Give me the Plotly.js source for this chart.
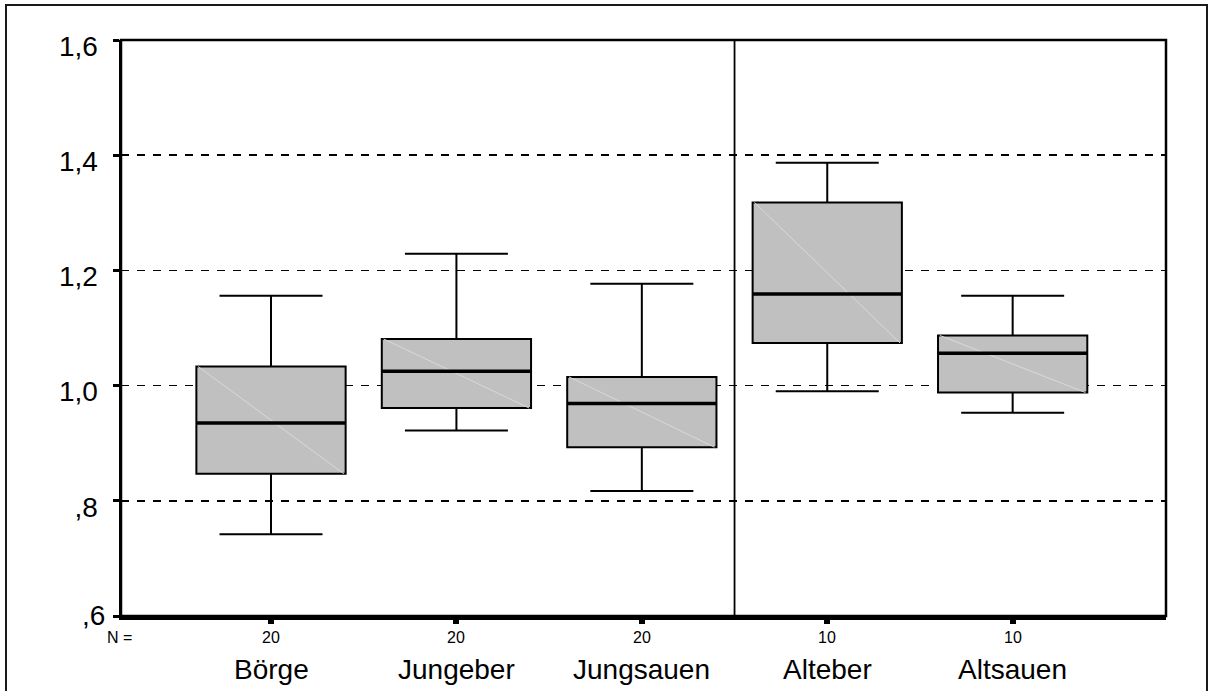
<!DOCTYPE html>
<html>
<head>
<meta charset="utf-8">
<script src="https://cdn.plot.ly/plotly-3.0.1.min.js"></script>
<style>
  html, body { margin: 0; padding: 0; background: #fff; overflow: hidden; }
  #frame { position: absolute; left: 5px; top: 4px; width: 1203px; height: 720px; border: 2px solid #1a1a1a; box-sizing: border-box; }
  #chart { position: absolute; left: 0; top: 0; width: 1213px; height: 691px; }
</style>
</head>
<body>
<div id="frame"></div>
<div id="chart"></div>
<script>
// Groups and their sample sizes
const categories = ['Börge', 'Jungeber', 'Jungsauen', 'Alteber', 'Altsauen'];
const counts = [20, 20, 20, 10, 10];

// Five-number summaries per group
const lowerWhisker = [0.742, 0.922, 0.817, 0.990, 0.953];
const q1           = [0.847, 0.961, 0.893, 1.074, 0.988];
const median       = [0.935, 1.025, 0.969, 1.159, 1.056];
const q3           = [1.033, 1.081, 1.015, 1.318, 1.087];
const upperWhisker = [1.156, 1.229, 1.177, 1.387, 1.156];

// Value axis ticks (German decimal comma, no leading zero)
const yTickVals = [0.6, 0.8, 1.0, 1.2, 1.4, 1.6];
const yTickText = [',6', ',8', '1,0', '1,2', '1,4', '1,6'];

const FONT = 'Arial, "Liberation Sans", sans-serif';
const BOX_W = 0.805;
const pos = categories.map((_, i) => i);

const boxTrace = {
  type: 'box',
  x: pos,
  q1: q1,
  median: median,
  q3: q3,
  lowerfence: lowerWhisker,
  upperfence: upperWhisker,
  width: BOX_W,
  whiskerwidth: 0.69,
  boxpoints: false,
  fillcolor: '#c0c0c0',
  line: { color: '#000', width: 2 },
  hoverinfo: 'skip',
  showlegend: false
};

// Faint diagonal inside each box and the heavier median bar
const diagX = [], diagY = [], medX = [], medY = [];
pos.forEach((p, i) => {
  diagX.push(p - BOX_W / 2 + 0.01, p + BOX_W / 2 - 0.01, null);
  diagY.push(q3[i], q1[i], null);
  medX.push(p - BOX_W / 2, p + BOX_W / 2, null);
  medY.push(median[i], median[i], null);
});

const diagTrace = {
  type: 'scatter', mode: 'lines', x: diagX, y: diagY,
  line: { color: '#d9d9d9', width: 1 }, hoverinfo: 'skip', showlegend: false
};
const medianTrace = {
  type: 'scatter', mode: 'lines', x: medX, y: medY,
  line: { color: '#000', width: 3.5 }, hoverinfo: 'skip', showlegend: false
};

const annotations = [];
// lowest value label sits level with its tick, the others a little below
annotations.push({
  text: yTickText[0], xref: 'paper', yref: 'y', x: 0, y: yTickVals[0],
  xanchor: 'right', yanchor: 'middle', xshift: -14, yshift: 1,
  showarrow: false, font: { family: FONT, size: 28, color: '#000' }
});
annotations.push({
  text: 'N =', xref: 'paper', yref: 'paper', x: 0, y: 0,
  xanchor: 'center', yanchor: 'middle', xshift: -2, yshift: -21,
  showarrow: false, font: { family: FONT, size: 16, color: '#000' }
});
pos.forEach((p, i) => {
  annotations.push({
    text: String(counts[i]), xref: 'x', yref: 'paper', x: p, y: 0,
    xanchor: 'center', yanchor: 'middle', yshift: -21,
    showarrow: false, font: { family: FONT, size: 16, color: '#000' }
  });
  annotations.push({
    text: categories[i], xref: 'x', yref: 'paper', x: p, y: 0,
    xanchor: 'center', yanchor: 'middle', yshift: -53,
    showarrow: false, font: { family: FONT, size: 28, color: '#000' }
  });
});

const layout = {
  width: 1213, height: 691,
  margin: { l: 121, r: 47, t: 40, b: 75, pad: 0 },
  paper_bgcolor: 'rgba(0,0,0,0)',
  plot_bgcolor: '#fff',
  font: { family: FONT, color: '#000' },
  showlegend: false,
  xaxis: {
    range: [-0.809, 4.827],
    tickvals: pos,
    showticklabels: false,
    ticks: 'outside', ticklen: 4, tickwidth: 6, tickcolor: '#000',
    showgrid: false, zeroline: false,
    showline: true, linecolor: '#000', linewidth: 4
  },
  yaxis: {
    range: [0.6, 1.6],
    tickvals: yTickVals,
    ticktext: [''].concat(yTickText.slice(1)),
    tickfont: { family: FONT, size: 28, color: '#000' },
    ticks: 'outside', ticklen: 6, tickwidth: 3, tickcolor: '#000',
    ticklabelstandoff: 9,
    ticklabelshift: 6,
    showgrid: true, gridcolor: '#000', gridwidth: 1.6, griddash: '8px,8px',
    zeroline: false,
    showline: true, linecolor: '#000', linewidth: 2.5
  },
  shapes: [
    // frame around the plotting area
    { type: 'rect', xref: 'paper', yref: 'paper', x0: 0, x1: 1, y0: 0, y1: 1,
      line: { color: '#000', width: 2.5 }, layer: 'above' },
    // divider between young and adult groups
    { type: 'line', xref: 'x', yref: 'paper', x0: 2.5, x1: 2.5, y0: 0, y1: 1,
      line: { color: '#000', width: 1.8 }, layer: 'above' }
  ],
  annotations: annotations
};

Plotly.newPlot('chart', [boxTrace, diagTrace, medianTrace], layout, { displayModeBar: false, staticPlot: true });
</script>
</body>
</html>
